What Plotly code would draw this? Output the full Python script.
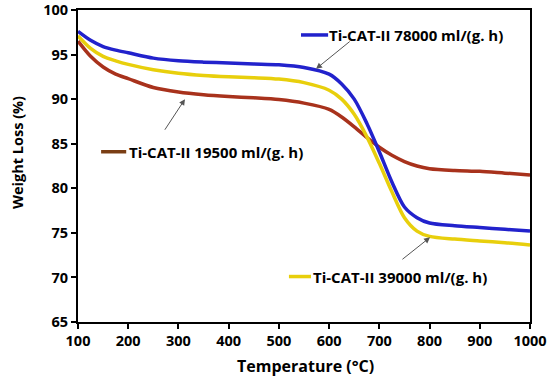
import plotly.graph_objects as go

temperature = [100, 125, 150, 175, 200, 250, 300, 350, 400, 450, 500, 550, 600,
               625, 650, 675, 700, 725, 750, 775, 800, 850, 900, 950, 1000]
w_78000 = [97.6, 96.6, 95.9, 95.5, 95.2, 94.6, 94.3, 94.15, 94.05, 93.95, 93.85, 93.55, 92.8,
           91.7, 90.0, 87.3, 84.1, 80.7, 77.9, 76.7, 76.1, 75.8, 75.6, 75.4, 75.2]
w_39000 = [97.1, 95.7, 94.8, 94.3, 93.9, 93.3, 92.9, 92.65, 92.5, 92.4, 92.25, 91.85, 91.0,
           90.0, 88.3, 85.8, 82.8, 79.6, 76.7, 75.2, 74.6, 74.3, 74.1, 73.9, 73.65]
w_19500 = [96.5, 94.8, 93.6, 92.8, 92.3, 91.3, 90.8, 90.5, 90.3, 90.15, 89.95, 89.55, 88.85,
           88.0, 86.9, 85.7, 84.6, 83.7, 83.0, 82.5, 82.2, 82.0, 81.9, 81.7, 81.5]

labels = ["Ti-CAT-II 78000 ml/(g. h)", "Ti-CAT-II 39000 ml/(g. h)", "Ti-CAT-II 19500 ml/(g. h)"]
colors = ["#2222CC", "#E8CF0C", "#A8321C"]

fig = go.Figure()
for w, c, name in [(w_19500, colors[2], labels[2]), (w_39000, colors[1], labels[1]), (w_78000, colors[0], labels[0])]:
    fig.add_trace(go.Scatter(x=temperature, y=w, mode="lines", name=name,
                             line=dict(color=c, width=3.5, shape="spline", smoothing=0.8),
                             showlegend=False, hoverinfo="skip"))

font_txt = dict(family="Open Sans", size=15, color="black")

# label: (segment x0, x1, y, text x, color, text, arrow head, arrow tail)
items = [
    (544, 598, 97.2, 600, colors[0], labels[0], (574, 93.4), (644, 96.6)),
    (146, 196, 84.1, 201, "#7A3E14", labels[2], (313, 90.0), (271, 86.4)),
    (520, 564, 70.1, 568, colors[1], labels[1], (801, 74.5), (743, 71.9)),
]
for x0, x1, y, tx, c, txt, head, tail in items:
    fig.add_shape(type="line", x0=x0, x1=x1, y0=y, y1=y, xref="x", yref="y",
                  line=dict(color=c, width=3.5))
    fig.add_annotation(x=tx, y=y, text="<b>" + txt + "</b>", showarrow=False,
                       xanchor="left", yanchor="middle", xshift=-2, font=font_txt)
    fig.add_annotation(x=head[0], y=head[1], ax=tail[0], ay=tail[1], axref="x", ayref="y",
                       xref="x", yref="y", text="", showarrow=True, arrowhead=2,
                       arrowsize=1.2, arrowwidth=1, arrowcolor="#555555")

L, R, T, B = 78, 20, 10, 57
W, H = 550, 379
pw, ph = W - L - R, H - T - B

# axis titles as positioned annotations
fig.add_annotation(xref="paper", yref="paper", x=(17 - L) / pw, y=(H - B - 153) / ph,
                   text="<b>Weight Loss (%)</b>", textangle=-90, showarrow=False,
                   xanchor="center", yanchor="middle",
                   font=dict(family="Open Sans", size=14.5, color="black"))
fig.add_annotation(xref="paper", yref="paper", x=(305 - L) / pw, y=(H - B - 366) / ph,
                   text="<b>Temperature (°C)</b>", showarrow=False,
                   xanchor="center", yanchor="middle",
                   font=dict(family="Open Sans", size=16, color="black"))

axis_common = dict(showline=True, linecolor="black", linewidth=2, mirror=True,
                   ticks="outside", ticklen=5, tickwidth=1.5, tickcolor="black",
                   showgrid=False, zeroline=False, automargin=False,
                   ticklabeloverflow="allow",
                   tickfont=dict(family="Open Sans", size=14.5, color="black"))

fig.update_xaxes(range=[100, 1000], dtick=100, tick0=100,
                 tickprefix="<b>", ticksuffix="</b>", **axis_common)
fig.update_yaxes(range=[65, 100], dtick=5,
                 tickprefix="<b>", ticksuffix="</b>", **axis_common)

fig.update_layout(width=W, height=H, margin=dict(l=L, r=R, t=T, b=B),
                  plot_bgcolor="white", paper_bgcolor="white", hovermode=False)

fig.write_html("out.html", config={"displayModeBar": False},
               post_script="document.body.style.margin='0';document.body.style.overflow='hidden';")
